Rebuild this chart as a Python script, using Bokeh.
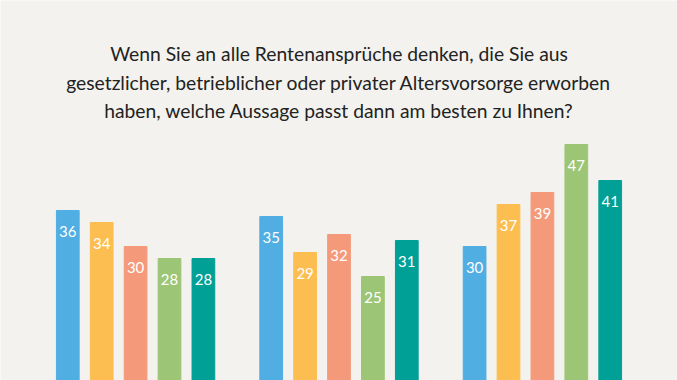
from bokeh.plotting import figure
from bokeh.models import FactorRange, Range1d, ColumnDataSource, Label
from bokeh.embed import file_html
from bokeh.resources import INLINE
from bokeh.core.properties import value

# ---- data ----
groups = ["A", "B", "C"]
series = ["s1", "s2", "s3", "s4", "s5"]
group_a = [36, 34, 30, 28, 28]
group_b = [35, 29, 32, 25, 31]
group_c = [30, 37, 39, 47, 41]
colors = ["#50aee3", "#fcbe50", "#f49a7b", "#9cc676", "#00a096"]
title_lines = [
    "Wenn Sie an alle Rentenansprüche denken, die Sie aus",
    "gesetzlicher, betrieblicher oder privater Altersvorsorge erworben",
    "haben, welche Aussage passt dann am besten zu Ihnen?",
]

BG = "#f3f2ee"

factors = [(g, s) for g in groups for s in series]
vals = group_a + group_b + group_c
cols = colors * len(groups)
src = ColumnDataSource(dict(x=factors, top=vals, color=cols,
                            label=[str(v) for v in vals]))

xr = FactorRange(*factors, factor_padding=0.0, group_padding=1.0,
                 range_padding=1.485, range_padding_units="absolute")

p = figure(width=677, height=380, x_range=xr, y_range=Range1d(7.67, 71),
           output_backend="svg", toolbar_location=None, min_border=0)
p.axis.visible = False
p.grid.visible = False
p.outline_line_color = None
p.background_fill_color = BG
p.border_fill_color = BG

p.vbar(x="x", top="top", bottom=0, width=0.67, color="color", source=src)
p.text(x="x", y="top", text="label", source=src, y_offset=21,
       text_align="center", text_baseline="middle", text_color="white",
       text_font=value("Lato"), text_font_size="15px")

for txt, yy in zip(title_lines, [326.7, 298.3, 270.0]):
    p.add_layout(Label(x=338.5, y=yy, x_units="screen", y_units="screen",
                       text=txt, text_align="center", text_baseline="alphabetic",
                       text_font="Lato", text_font_size="19.3px",
                       text_color="#222222"))

html = file_html(p, INLINE)
open("out.html", "w").write(html)
